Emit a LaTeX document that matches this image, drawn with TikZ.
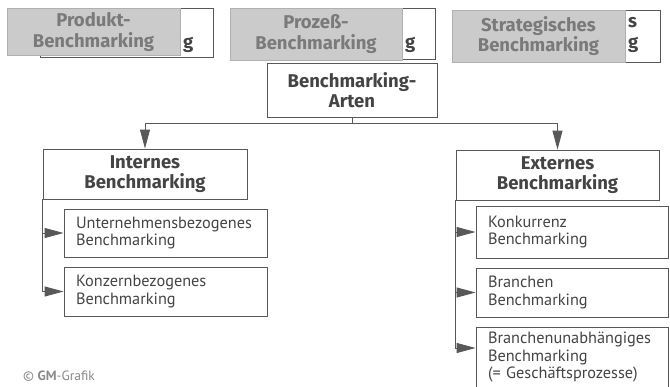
\documentclass[tikz,border=0pt]{standalone}
\usepackage{fontspec}
\setmainfont{PT Sans}
\newfontfamily\headfamily{Fira Sans}
\usetikzlibrary{arrows.meta}
\definecolor{ink}{HTML}{444444}
\definecolor{boxline}{HTML}{585858}
\definecolor{shade}{HTML}{CBCBCB}
\definecolor{shadeline}{HTML}{B0B0B0}
\definecolor{shadeink}{HTML}{7A7A7A}
\definecolor{credit}{HTML}{8A8A8A}
\begin{document}
\begin{tikzpicture}[x=1pt,y=-1pt,
  frame/.style={draw=boxline, line width=0.9pt, fill=white, inner sep=0pt},
  headfont/.style={font=\headfamily\bfseries\fontsize{18.5}{20.5}\selectfont},
  headbox/.style={frame, headfont, text=ink, align=center},
  itembox/.style={frame, font=\fontsize{16.3}{17.5}\selectfont, text=ink,
    align=left, inner xsep=12pt, text width=#1},
  greybox/.style={draw=shadeline, line width=0.6pt, fill=shade, headfont,
    text=shadeink, align=center, inner sep=0pt},
  backbox/.style={frame},
  peek/.style={headfont, text=ink, inner sep=0pt, anchor=base west},
  feed/.style={draw=boxline, line width=0.9pt,
    -{Triangle[length=19pt,width=10pt]}},
]
\useasboundingbox (0,0) rectangle (670,386);

% --- overlapping top tiles: white box behind, grey tile in front
\node[backbox, minimum width=173pt, minimum height=49pt] (prodback) at (126.5,32.5) {};
\node[peek] (prodg) at (183,48) {g};
\node[greybox, minimum width=173pt, minimum height=47pt] (prod) at (93.5,32)
  {Produkt-\\Benchmarking};

\node[backbox, minimum width=172pt, minimum height=51pt] (procback) at (349,33.5) {};
\node[peek] (procg) at (405,48) {g};
\node[greybox, minimum width=172pt, minimum height=52pt] (proc) at (316,34)
  {Prozeß-\\Benchmarking};

\node[backbox, minimum width=173pt, minimum height=52pt] (stratback) at (573.5,36) {};
\node[peek] (strats) at (628,27) {s};
\node[peek] (stratg) at (628,48) {g};
\node[greybox, minimum width=173pt, minimum height=52pt] (strat) at (538.5,36)
  {Strategisches\\Benchmarking};

% --- root
\node[headbox, minimum width=170pt, minimum height=54pt] (arten) at (352,90)
  {Benchmarking-\\Arten};

% --- the two main branches
\node[headbox, minimum width=204pt, minimum height=50pt] (int) at (145,174)
  {Internes\\Benchmarking};
\node[headbox, minimum width=203pt, minimum height=50pt] (ext) at (557.5,175)
  {Externes\\Benchmarking};

% --- internal kinds
\node[itembox=179pt, minimum height=48pt] (unt) at (165.5,233)
  {Unternehmensbezogenes\\Benchmarking};
\node[itembox=179pt, minimum height=49pt] (konz) at (165.5,291.5)
  {Konzernbezogenes\\Benchmarking};

% --- external kinds
\node[itembox=168pt, minimum height=52pt] (konk) at (572,232)
  {Konkurrenz\\Benchmarking};
\node[itembox=168pt, minimum height=49pt] (bran) at (572,292.5)
  {Branchen\\Benchmarking};
\node[itembox=168pt, minimum height=61pt] (unab) at (572,357.5)
  {Branchenunabhängiges\\Benchmarking\\(= Geschäftsprozesse)};

% --- connectors
\draw[feed] (arten.south) -- ++(0,6) -| (int.north);
\draw[feed] (arten.south) -- ++(0,6) -| (ext.north);

\draw[feed] (int.south west) |- (konz.west);
\draw[feed] (int.south west |- unt.west) -- (unt.west);

\draw[feed] (ext.south west) |- ([yshift=9.5pt]unab.west);
\draw[feed] (ext.south west |- konk.west) -- (konk.west);
\draw[feed] (ext.south west |- bran.west) -- (bran.west);

% --- credit line
\node[anchor=base west, inner sep=0pt, text=credit, font=\fontsize{13.5}{15}\selectfont]
  (credit) at (23,380) {© \textbf{GM}-Grafik};
\end{tikzpicture}
\end{document}
